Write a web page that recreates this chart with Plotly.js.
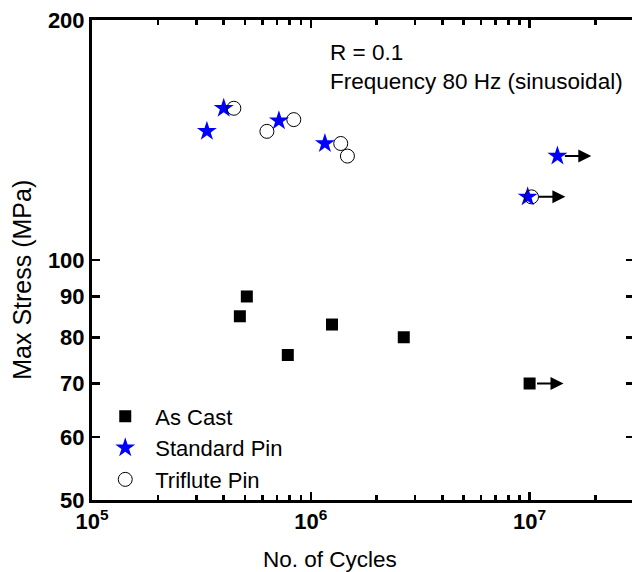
<!DOCTYPE html>
<html>
<head>
<meta charset="utf-8">
<script src="https://cdn.plot.ly/plotly-3.0.1.min.js"></script>
<style>
html,body{margin:0;padding:0;background:#fff;overflow:hidden;}
#chart{width:640px;height:572px;}
</style>
</head>
<body>
<div id="chart"></div>
<script>
// Data (cycles, max stress MPa)
const asCastCycles = [4.74e5, 5.1e5, 7.85e5, 1.25e6, 2.66e6, 1.0e7];
const asCastStress = [85, 90, 76, 83, 80, 70];
const asCastRunout = [false, false, false, false, false, true];

const standardCycles = [3.35e5, 4.0e5, 7.15e5, 1.16e6, 9.8e6, 1.34e7];
const standardStress = [145, 155, 149.5, 140, 120, 135];
const standardRunout = [false, false, false, false, false, true];

const trifluteCycles = [4.45e5, 6.3e5, 8.36e5, 1.37e6, 1.47e6, 1.02e7];
const trifluteStress = [155, 145, 150, 140, 135, 120];
const trifluteRunout = [false, false, false, false, false, true];

const xTickVals = [1e5, 1e6, 1e7];
const xTickText = ['10<sup>5</sup>', '10<sup>6</sup>', '10<sup>7</sup>'];
const yTickVals = [50, 60, 70, 80, 90, 100, 200];
const yTickText = ['50', '60', '70', '80', '90', '100', '200'];
const xMinorDigits = [2, 3, 4, 5, 6, 7, 8, 9];
const xMinorDecades = [1e5, 1e6, 1e7];

const xMinorVals = [];
xMinorDecades.forEach(d => xMinorDigits.forEach(k => xMinorVals.push(k * d)));

const FONT = 'Liberation Sans, Arial, sans-serif';
const X_RANGE = [5, Math.log10(3e7)];

const traces = [
  {x: asCastCycles, y: asCastStress, name: 'As Cast', mode: 'markers', type: 'scatter',
   marker: {symbol: 'square', size: 12, color: '#000000'}},
  {x: standardCycles, y: standardStress, name: 'Standard Pin', mode: 'markers', type: 'scatter',
   marker: {symbol: 'star', size: 15, color: '#0000ff', line: {width: 0}}},
  {x: trifluteCycles, y: trifluteStress, name: 'Triflute Pin', mode: 'markers', type: 'scatter',
   marker: {symbol: 'circle-open', size: 14, color: '#000000', line: {width: 1, color: '#000000'}}}
];

// run-out arrows
const annotations = [];
function addRunouts(xs, ys, flags) {
  xs.forEach((xv, i) => {
    if (!flags[i]) return;
    annotations.push({
      x: Math.log10(xv) + 0.155, y: Math.log10(ys[i]), xref: 'x', yref: 'y',
      ax: -34, ay: 0, axref: 'pixel', ayref: 'pixel', text: '',
      showarrow: true, arrowhead: 2, arrowsize: 1.3, arrowwidth: 2, arrowcolor: '#000000',
      startstandoff: 6
    });
  });
}
addRunouts(asCastCycles, asCastStress, asCastRunout);
addRunouts(standardCycles, standardStress, standardRunout);
addRunouts(trifluteCycles, trifluteStress, trifluteRunout);

annotations.push({
  xref: 'paper', yref: 'paper', x: 0.436, y: 0.962, xanchor: 'left', yanchor: 'top',
  align: 'left', showarrow: false,
  text: 'R = 0.1<br>Frequency 80 Hz (sinusoidal)',
  font: {family: FONT, size: 22.5, color: '#000000'}
});
annotations.push({
  xref: 'paper', yref: 'paper', x: 0.439, y: -0.094, xanchor: 'center', yanchor: 'top',
  showarrow: false, text: 'No. of Cycles',
  font: {family: FONT, size: 22.5, color: '#000000'}
});
annotations.push({
  xref: 'paper', yref: 'paper', x: -0.128, y: 0.458, xanchor: 'center', yanchor: 'middle',
  showarrow: false, text: 'Max Stress (MPa)', textangle: -90,
  font: {family: FONT, size: 25, color: '#000000'}
});

const layout = {
  width: 640, height: 572,
  margin: {l: 92, r: 6, t: 20, b: 72},
  paper_bgcolor: '#ffffff', plot_bgcolor: '#ffffff',
  showlegend: true,
  legend: {x: 0.006, y: 0.218, xanchor: 'left', yanchor: 'top', bgcolor: 'rgba(0,0,0,0)',
           font: {family: FONT, size: 22, color: '#000000'}, itemwidth: 50},
  xaxis: {
    type: 'log', range: X_RANGE,
    showgrid: false, zeroline: false,
    showline: true, linewidth: 3, linecolor: '#000000', mirror: 'allticks',
    ticks: 'inside', ticklen: 8, tickwidth: 2.5, tickcolor: '#000000',
    tickmode: 'array', tickvals: xTickVals, ticktext: xTickText,
    tickfont: {family: FONT, size: 22, color: '#000000', weight: 'bold'},
    minor: {tickmode: 'array', tickvals: xMinorVals, ticks: 'inside', ticklen: 5, tickwidth: 2.5,
            tickcolor: '#000000', showgrid: false}
  },
  yaxis: {
    type: 'log', range: [Math.log10(50), Math.log10(200)],
    showgrid: false, zeroline: false,
    showline: true, linewidth: 3, linecolor: '#000000', mirror: 'allticks',
    ticks: 'inside', ticklen: 8, tickwidth: 2.5, tickcolor: '#000000',
    tickmode: 'array', tickvals: yTickVals, ticktext: yTickText,
    tickfont: {family: FONT, size: 22, color: '#000000', weight: 'bold'}
  },
  annotations: annotations
};

Plotly.newPlot('chart', traces, layout, {displayModeBar: false, staticPlot: true});
</script>
</body>
</html>
